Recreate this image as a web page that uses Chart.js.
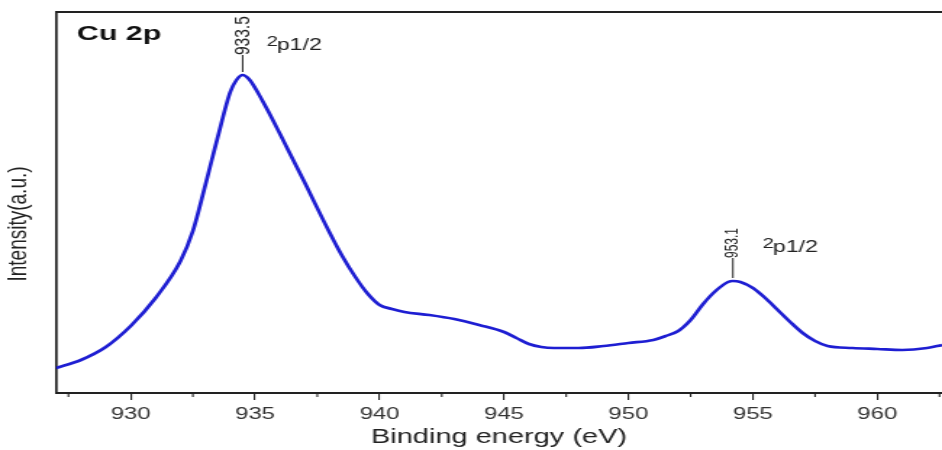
<!DOCTYPE html>
<html>
<head>
<meta charset="utf-8">
<script src="https://cdn.jsdelivr.net/npm/chart.js@4"></script>
<style>
html, body { margin: 0; padding: 0; background: #fff; }
#xps { display: block; width: 942px !important; height: 450px !important; }
</style>
</head>
<body>
<canvas id="xps" width="650" height="450" style="width:942px;height:450px"></canvas>
<script>
/* Cu 2p XPS spectrum: binding energy (eV) vs intensity (a.u.) */
var energy = [927.0, 928.0, 929.0, 930.0, 931.0, 932.0, 932.5, 933.0, 933.5, 934.0,
	934.25, 934.5, 934.75, 935.0, 935.5, 936.0, 937.0, 938.0, 938.5, 939.0,
	939.5, 940.0, 940.5, 941.0, 942.0, 943.0, 944.0, 945.0, 945.5, 946.0,
	946.5, 947.0, 948.0, 949.0, 950.0, 951.0, 951.5, 952.0, 952.5, 953.0,
	953.5, 954.0, 954.2, 954.5, 955.0, 955.5, 956.0, 956.5, 957.0, 957.5,
	958.0, 959.0, 960.0, 961.0, 962.0, 962.6];
var intensity = [25, 33, 46, 67, 95, 132, 162, 208, 256, 301,
	313, 318, 314, 305, 283, 259, 210, 160, 137, 117,
	100, 88, 84, 81, 78, 74, 68, 61, 55, 49,
	46, 45, 45, 47, 50, 53, 57, 62, 73, 89,
	102, 111, 112, 111, 105, 95, 83, 71, 60, 52,
	47, 45, 44, 43, 45, 48];

/* peak annotations: printed value, orbital, energy window searched for the max */
var peakText = ['933.5', '953.1'];
var peakOrbital = ['p1/2', 'p1/2'];
var peakWindow = [[927, 945], [945, 963]];

var xMin = 927, xMax = 962.6;
var yMax = 381;

/* canvas is drawn narrow and stretched by css to 942 wide */
var STRETCH = 942 / 650;
var FONT = '"Liberation Sans", Arial, sans-serif';

function peakIn(lo, hi){
	var best = -1;
	for(var i = 0; i < energy.length; i++){
		if(energy[i] < lo || energy[i] > hi) continue;
		if(best < 0 || intensity[i] > intensity[best]) best = i;
	}
	return best;
}

var points = [];
for(var i = 0; i < energy.length; i++){
	points.push({x: energy[i], y: intensity[i]});
}

var frame = {
	id: 'frame',
	afterDraw: function(chart){
		var ctx = chart.ctx, a = chart.chartArea, xs = chart.scales.x;
		ctx.save();
		ctx.strokeStyle = '#222';
		// top border
		ctx.lineWidth = 2;
		ctx.beginPath();
		ctx.moveTo(a.left, a.top);
		ctx.lineTo(a.right, a.top);
		ctx.stroke();
		// minor ticks between the labelled ones
		ctx.lineWidth = 1.1;
		for(var v = 927.5; v < xMax; v += 5){
			var px = xs.getPixelForValue(v);
			ctx.beginPath();
			ctx.moveTo(px, a.bottom);
			ctx.lineTo(px, a.bottom + 4);
			ctx.stroke();
		}
		// y axis title, sits a little below the middle of the axis
		ctx.save();
		ctx.translate(12.5, 224);
		ctx.rotate(-Math.PI / 2);
		ctx.font = '19px ' + FONT;
		ctx.fillStyle = '#222';
		ctx.textAlign = 'center';
		ctx.textBaseline = 'middle';
		ctx.fillText('Intensity(a.u.)', 0, 0);
		ctx.restore();
		ctx.restore();
	}
};

var labels = {
	id: 'labels',
	afterDraw: function(chart){
		var ctx = chart.ctx, xs = chart.scales.x, ys = chart.scales.y;
		ctx.save();
		ctx.fillStyle = '#111';
		ctx.font = 'bold 21px ' + FONT;
		ctx.textBaseline = 'alphabetic';
		ctx.fillText('Cu 2p', 53, 40);

		var sizes = [15.5, 12];
		for(var k = 0; k < peakText.length; k++){
			var idx = peakIn(peakWindow[k][0], peakWindow[k][1]);
			var px = xs.getPixelForValue(energy[idx]);
			var py = ys.getPixelForValue(intensity[idx]);
			var top = py - 20 - k * 3;

			ctx.strokeStyle = '#222';
			ctx.lineWidth = 1;
			ctx.beginPath();
			ctx.moveTo(px, py - 3);
			ctx.lineTo(px, top);
			ctx.stroke();

			// value written upwards, starting at the top of the leader line
			ctx.save();
			ctx.translate(px, top);
			ctx.rotate(-Math.PI / 2);
			ctx.font = sizes[k] + 'px ' + FONT;
			ctx.textAlign = 'left';
			ctx.textBaseline = 'middle';
			ctx.fillStyle = '#222';
			ctx.fillText(peakText[k], 0, 0);
			ctx.restore();

			ctx.fillStyle = '#222';
			ctx.textAlign = 'left';
			ctx.font = '14px ' + FONT;
			ctx.fillText('2', px + 16.5 + k * 4, py - 29 - k * 4);
			ctx.font = '16px ' + FONT;
			ctx.fillText(peakOrbital[k], px + 23.5 + k * 4, py - 25 - k * 4);
		}
		ctx.restore();
	}
};

new Chart(document.getElementById('xps'), {
	type: 'line',
	data: {
		datasets: [{
			data: points,
			borderColor: '#1e1ed2',
			borderWidth: 2.7,
			pointRadius: 0,
			fill: false,
			cubicInterpolationMode: 'monotone'
		}]
	},
	options: {
		responsive: false,
		animation: false,
		layout: { padding: { top: 12, right: 0, left: 0, bottom: 0 } },
		plugins: { legend: { display: false }, tooltip: { enabled: false } },
		scales: {
			x: {
				type: 'linear',
				min: xMin,
				max: xMax,
				border: { color: '#222', width: 2 },
				grid: { drawOnChartArea: false, tickLength: 7, color: '#222', lineWidth: 1.1 },
				ticks: {
					stepSize: 5,
					includeBounds: false,
					maxRotation: 0,
					padding: 5,
					color: '#333',
					font: { family: FONT, size: 16.5 }
				},
				title: {
					display: true,
					text: 'Binding energy (eV)',
					color: '#222',
					font: { family: FONT, size: 20 },
					padding: { top: 0, bottom: 1 }
				},
				afterFit: function(s){ s.height = 57; }
			},
			y: {
				min: 0,
				max: yMax,
				border: { color: '#222', width: 1.7 },
				grid: { drawOnChartArea: false, drawTicks: false },
				ticks: { display: false },
				afterFit: function(s){ s.width = 56 / STRETCH; }
			}
		}
	},
	plugins: [frame, labels]
});
</script>
</body>
</html>
